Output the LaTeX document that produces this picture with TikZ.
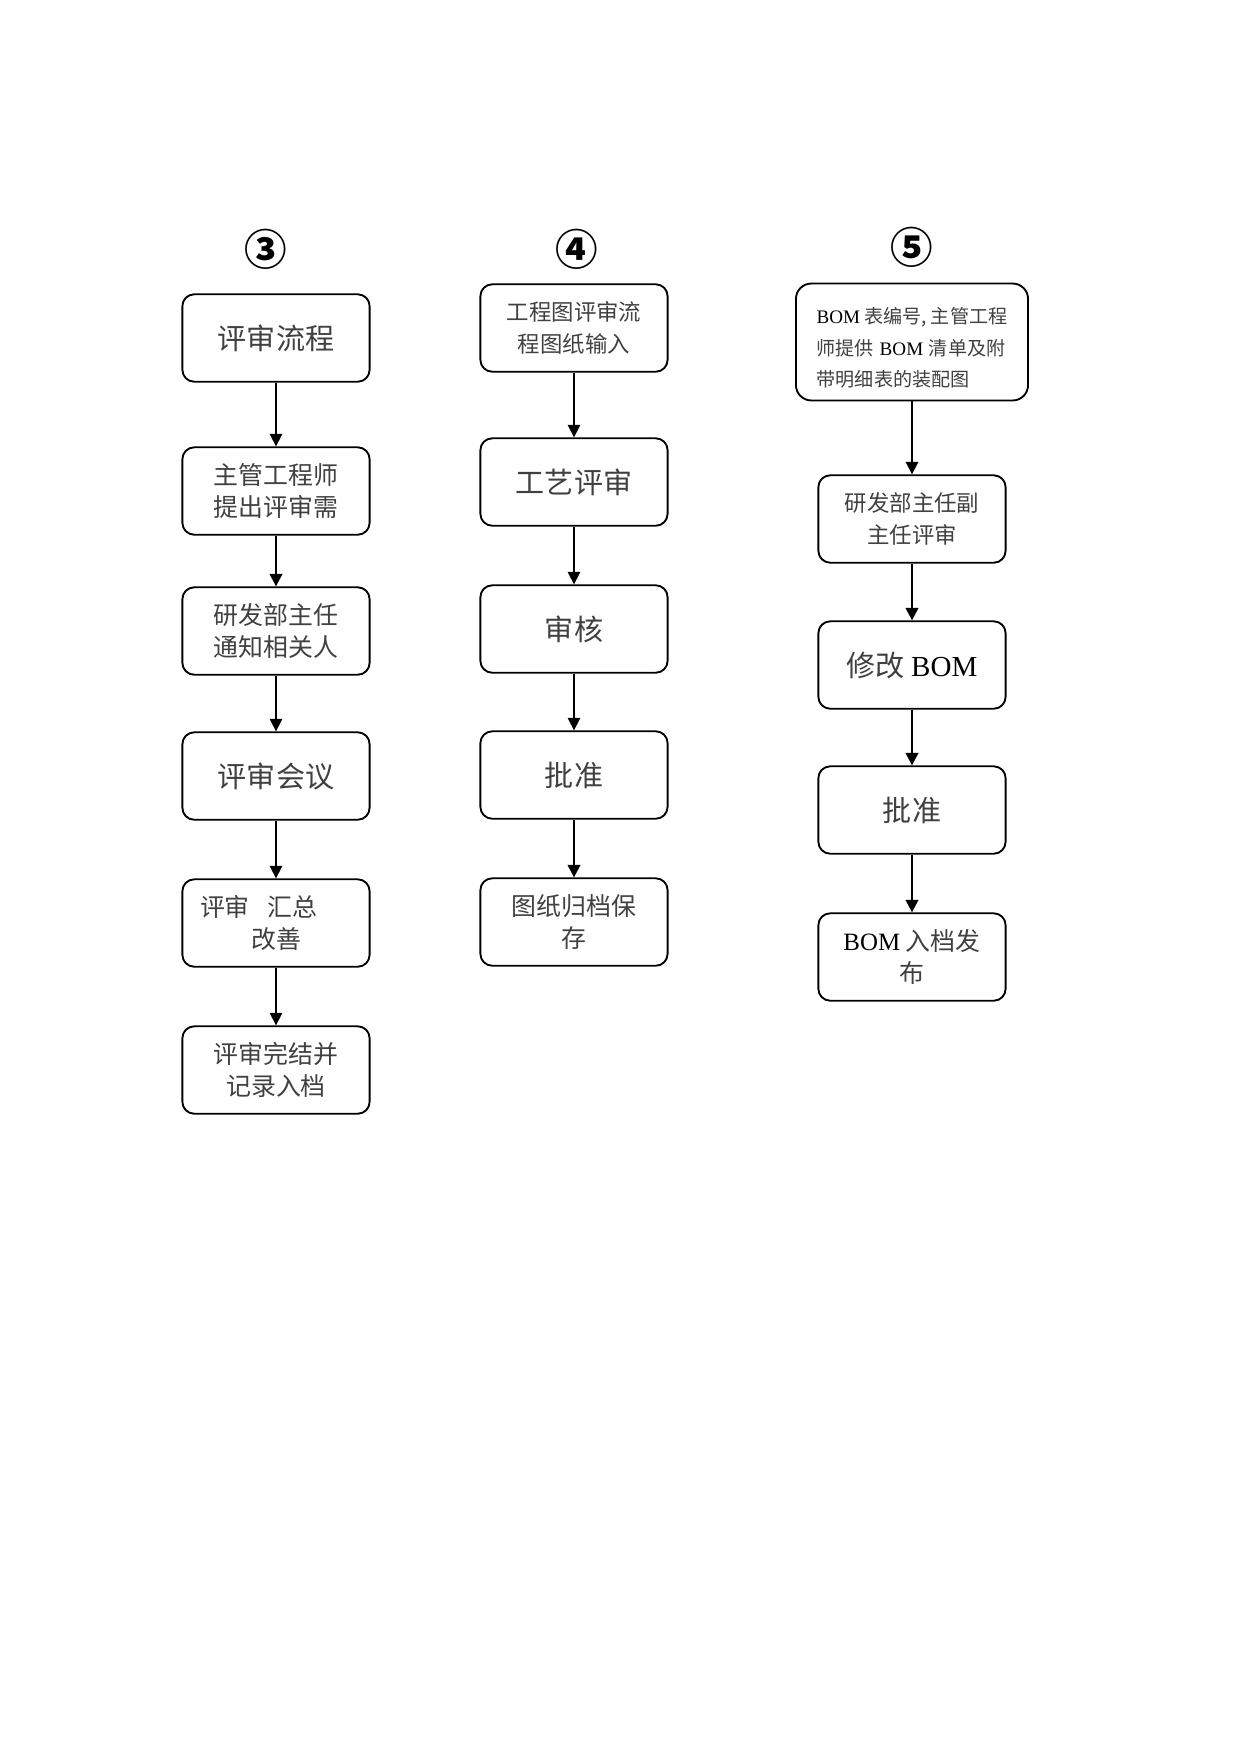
\documentclass[tikz,border=0pt]{standalone}
\usepackage{fontspec}
\setmainfont{Liberation Serif}
\newfontfamily\cjk{Noto Sans CJK SC}
\usepackage{tikz}
\usetikzlibrary{arrows.meta, positioning}

\newcommand{\bomtxt}{{\rmfamily\color{black}BOM}}

\begin{document}
\begin{tikzpicture}[x=0.16933mm, y=-0.16933mm]
  % Sheet is measured in pixels of the scanned page (A4)
  \useasboundingbox (0,0) rectangle (1241,1754);

  % --- Styles ---
  \tikzset{
    flowbox/.style={draw, line width=0.9pt, rounded corners=2mm, minimum width=31.7mm,
      minimum height=14.8mm, align=center, inner sep=1pt, text=black!75},
    big/.style={font=\cjk\fontsize{14}{16}\selectfont},
    mid/.style={font=\cjk\fontsize{12}{15.2}\selectfont},
    midsmall/.style={font=\cjk\fontsize{10.8}{15.2}\selectfont},
    small/.style={font=\cjk\fontsize{9.2}{15.2}\selectfont},
    title/.style={font=\cjk\bfseries\fontsize{20.5}{24}\selectfont},
    flow/.style={-{Triangle[length=2.1mm, width=2.1mm]}, line width=0.6pt},
    flow thick/.style={flow, line width=1.1pt}
  }

  % --- Column titles ---
  \node[title] (t3) at (266,249) {③};
  \node[title] (t4) at (577,249) {④};
  \node[title] (t5) at (912,247) {⑤};

  % --- Column 3: review process ---
  \node[flowbox, big] (a1) at (276,338) {评审流程};
  \node[flowbox, mid] (a2) at (276,491) {主管工程师\\提出评审需};
  \node[flowbox, mid] (a3) at (276,631) {研发部主任\\通知相关人};
  \node[flowbox, big] (a4) at (276,776) {评审会议};
  \node[flowbox, mid] (a5) at (276,923) {评审\hspace{0.7em}汇总\hspace*{1.4em}\\改善};
  \node[flowbox, mid] (a6) at (276,1070) {评审完结并\\记录入档};

  \draw[flow] (a1) -- (a2);
  \draw[flow thick] (a2) -- (a3);
  \draw[flow] (a3) -- (a4);
  \draw[flow] (a4) -- (a5);
  \draw[flow] (a5) -- (a6);

  % --- Column 4: drawing review ---
  \node[flowbox, midsmall] (b1) at (574,328) {工程图评审流\\程图纸输入};
  \node[flowbox, big] (b2) at (574,482) {工艺评审};
  \node[flowbox, big] (b3) at (574,629) {审核};
  \node[flowbox, big] (b4) at (574,775) {批准};
  \node[flowbox, mid] (b5) at (574,922) {图纸归档保\\存};

  \draw[flow] (b1) -- (b2);
  \draw[flow] (b2) -- (b3);
  \draw[flow] (b3) -- (b4);
  \draw[flow thick] (b4) -- (b5);

  % --- Column 5: BOM release ---
  % the rule on the first line only pushes the three lines a little lower
  \node[flowbox, small, rounded corners=2.6mm, minimum width=39.3mm, minimum height=19.8mm, align=left] (c1) at (912,342)
    {\rule{0pt}{4.8mm}\bomtxt{} 表编号,\hspace{0.2em}主管工程\\师提供\hspace{0.3em}\bomtxt\hspace{0.3em}清单及附\\带明细表的装配图};
  \node[flowbox, midsmall] (c2) at (912,519) {研发部主任副\\主任评审};
  \node[flowbox, big] (c3) at (912,665) {修改 \bomtxt};
  \node[flowbox, big] (c4) at (912,810) {批准};
  \node[flowbox, mid] (c5) at (912,957) {\bomtxt{} 入档发\\布};

  \draw[flow] (c1) -- (c2);
  \draw[flow thick] (c2) -- (c3);
  \draw[flow thick] (c3) -- (c4);
  \draw[flow thick] (c4) -- (c5);
\end{tikzpicture}
\end{document}
